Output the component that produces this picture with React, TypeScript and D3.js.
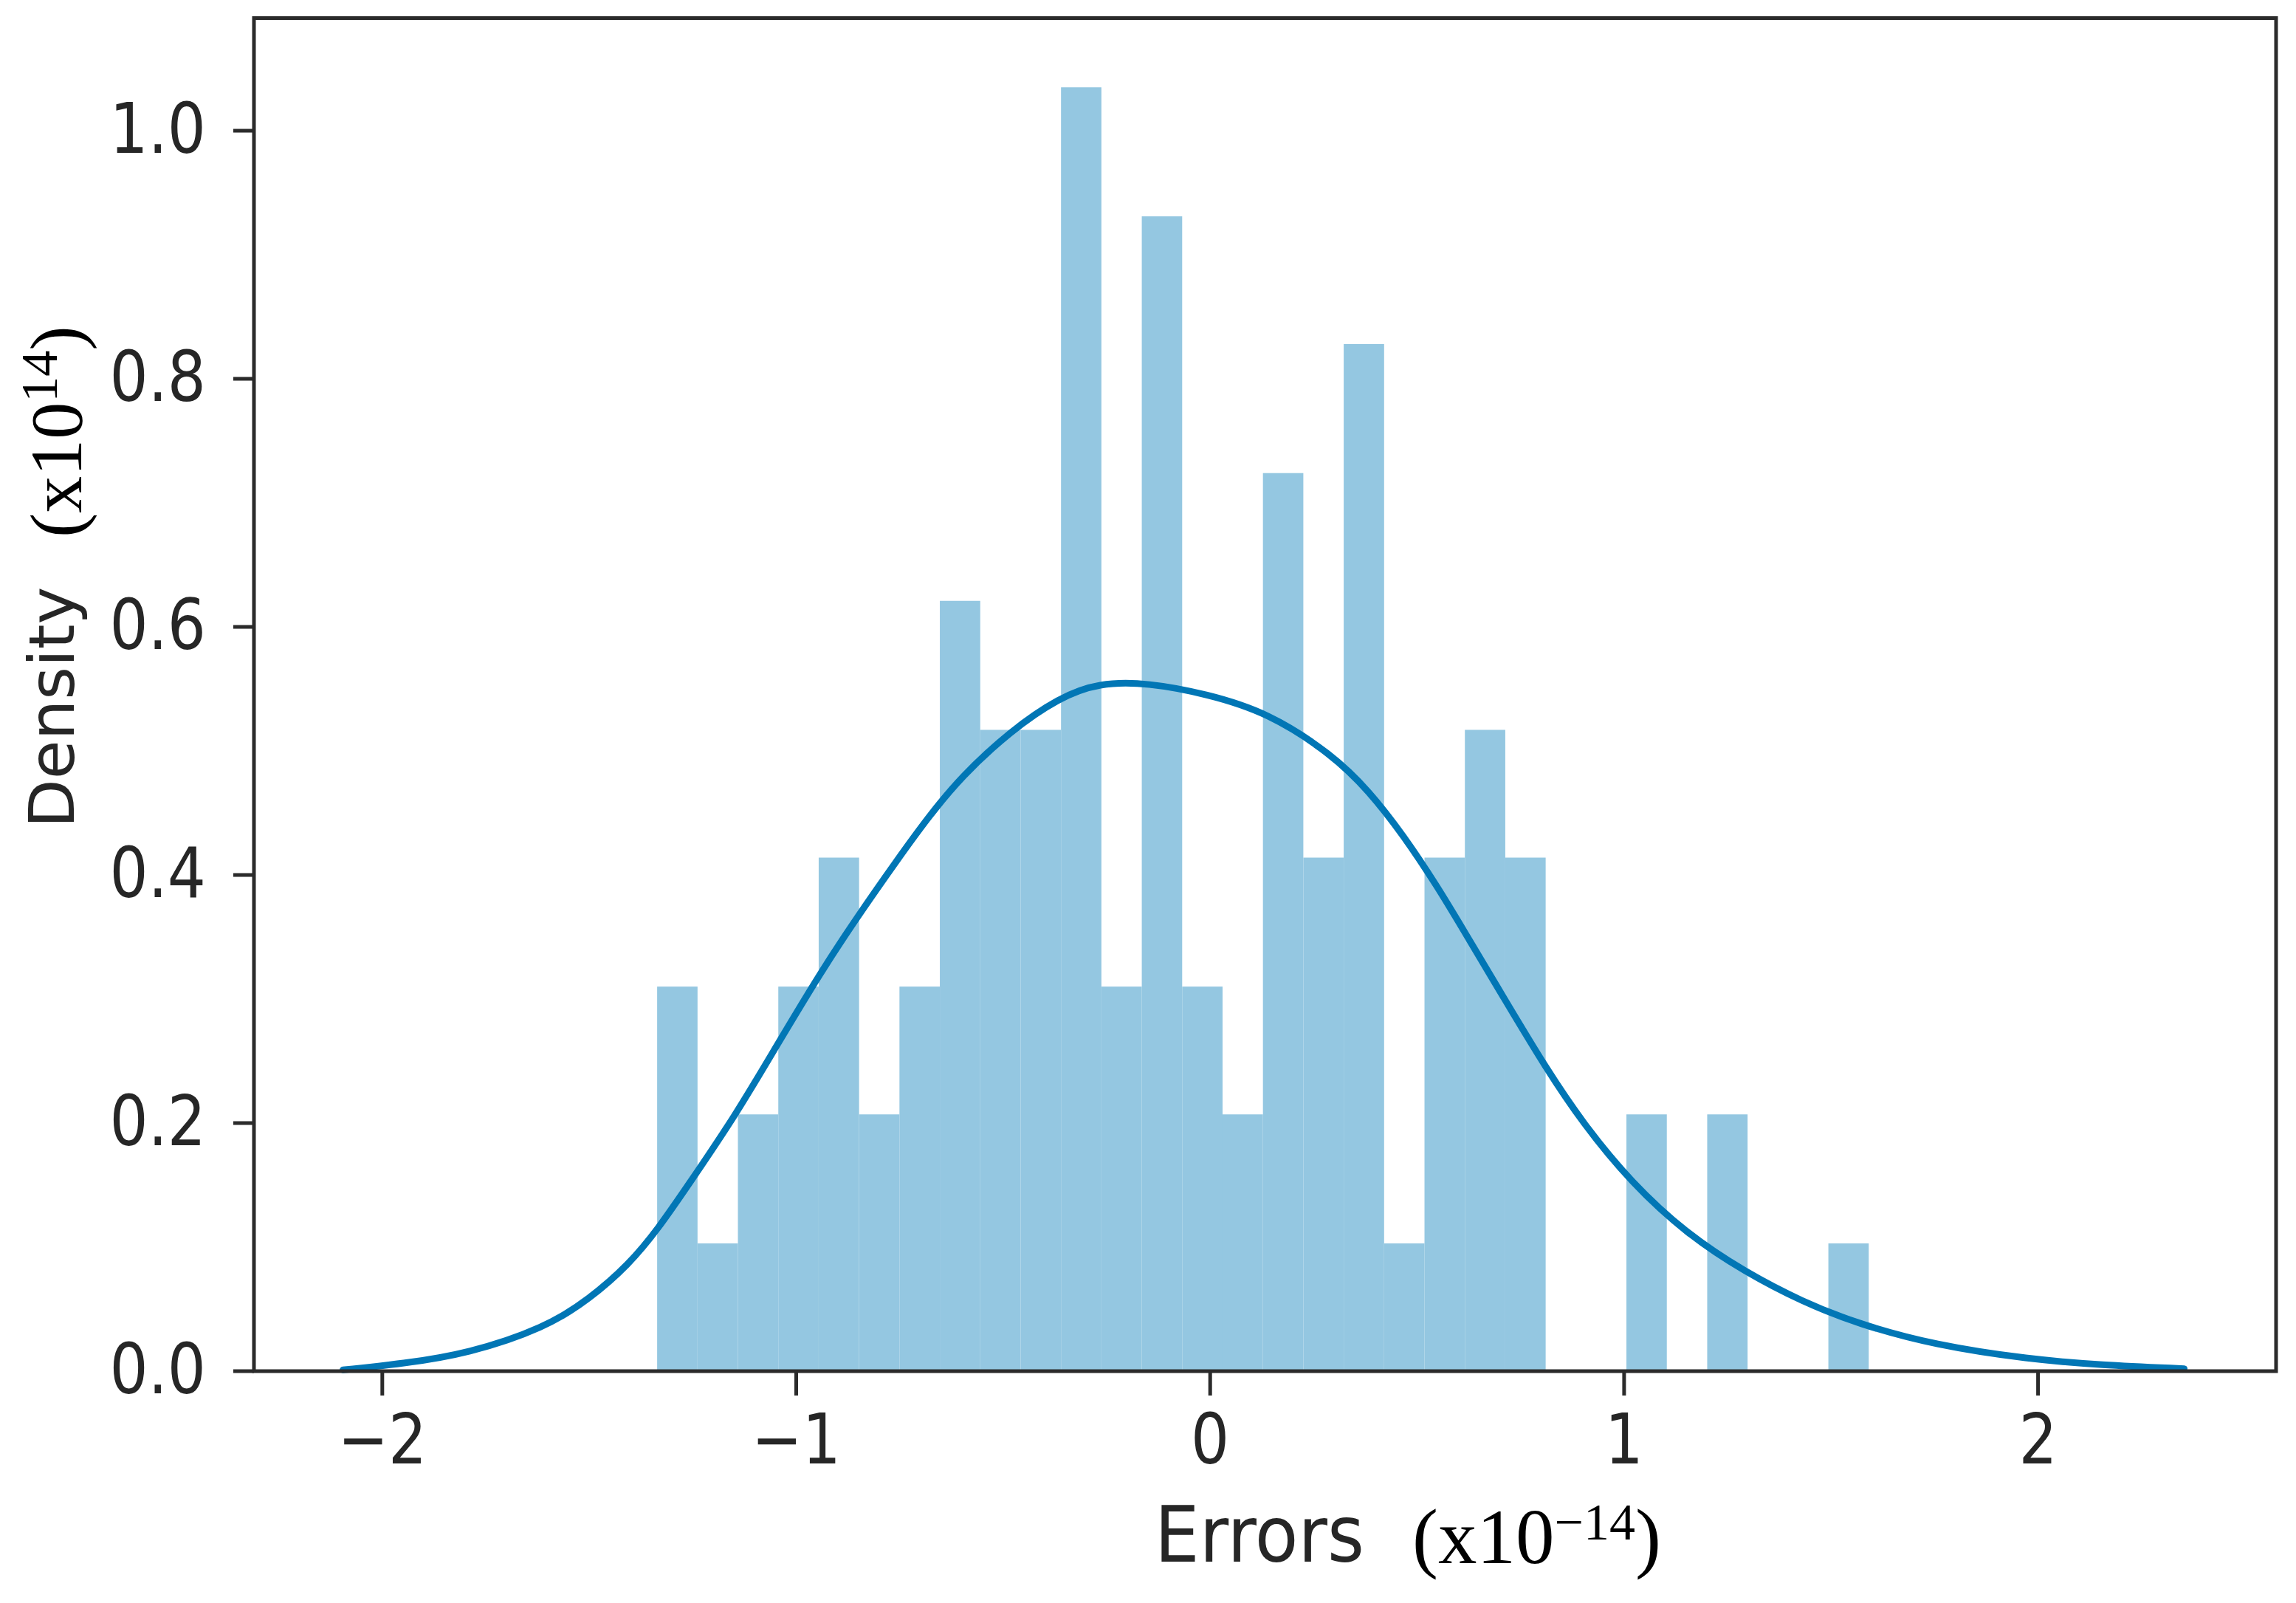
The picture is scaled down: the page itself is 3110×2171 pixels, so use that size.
import React from "react";
import * as d3 from "d3";

// Histogram (density): 30 equal bins between binLo and binHi
const binLo = -1.336;
const binHi = 1.591;
const binDensity = [
  0.31, 0.103, 0.207, 0.31, 0.414, 0.207, 0.31, 0.621, 0.517, 0.517,
  1.035, 0.31, 0.931, 0.31, 0.207, 0.724, 0.414, 0.828, 0.103, 0.414,
  0.517, 0.414, 0, 0, 0.207, 0, 0.207, 0, 0, 0.103,
];

// KDE curve points
const kdeX = [
  -2.095, -1.95, -1.794, -1.606, -1.5, -1.404, -1.333, -1.261, -1.149, -1.048,
  -0.94, -0.857, -0.75, -0.68, -0.602, -0.483, -0.365, -0.269, -0.15, -0.009,
  0.14, 0.295, 0.383, 0.467, 0.55, 0.604, 0.72, 0.81, 0.9, 1.017,
  1.154, 1.292, 1.43, 1.566, 1.75, 1.98, 2.15, 2.353,
];
const kdeY = [
  0.001, 0.006, 0.014, 0.035, 0.058, 0.086, 0.115, 0.15, 0.205, 0.262,
  0.322, 0.364, 0.415, 0.447, 0.479, 0.516, 0.543, 0.555, 0.555, 0.546,
  0.531, 0.497, 0.468, 0.432, 0.39, 0.36, 0.295, 0.245, 0.2, 0.152,
  0.11, 0.08, 0.056, 0.038, 0.021, 0.0095, 0.005, 0.002,
];

const xTicks = [-2, -1, 0, 1, 2];
const yTicks = [0, 0.2, 0.4, 0.6, 0.8, 1.0];

const W = 3110;
const H = 2171;
const L = 344;
const R = 3083;
const T = 24.5;
const B = 1857;

export default function App() {
  const x = d3.scaleLinear().domain([-2.31, 2.575]).range([L, R]);
  const y = d3.scaleLinear().domain([0, 1.0908]).range([B, T]);
  const edges = d3.range(binDensity.length + 1).map(
    (i) => binLo + ((binHi - binLo) * i) / binDensity.length
  );
  const pts = kdeX.map((v, i) => [v, kdeY[i]] as [number, number]);
  const line = d3
    .line<[number, number]>()
    .x((d) => x(d[0]))
    .y((d) => y(d[1]))
    .curve(d3.curveBasis);
  const fmtY = d3.format(".1f");
  const fmtX = (v: number) => (v < 0 ? "\u2212" + Math.abs(v) : String(v));
  const sans = "'DejaVu Sans', sans-serif";
  const serif = "'Liberation Serif', 'Times New Roman', serif";
  const axisColor = "#2b2b2b";
  const textColor = "#262626";

  return (
    <svg
      width={W}
      height={H}
      style={{ position: "absolute", left: 0, top: 0, display: "block", background: "#fff" }}
    >
      <rect x={0} y={0} width={W} height={H} fill="#fff" />
      {binDensity.map((d, i) =>
        d > 0 ? (
          <rect
            key={i}
            x={x(edges[i])}
            y={y(d)}
            width={x(edges[i + 1]) - x(edges[i])}
            height={y(0) - y(d)}
            fill="#94c7e1"
          />
        ) : null
      )}
      <path d={line(pts) || ""} fill="none" stroke="#0176b5" strokeWidth={9} strokeLinecap="round" />
      {/* frame */}
      <rect x={L} y={T} width={R - L} height={B - T} fill="none" stroke={axisColor} strokeWidth={5} />
      {/* y ticks */}
      {yTicks.map((t) => (
        <g key={"y" + t}>
          <line x1={L - 28} x2={L} y1={y(t)} y2={y(t)} stroke={axisColor} strokeWidth={5} />
          <text
            transform={`translate(${L - 65},${y(t) + 30}) scale(1,1.15)`}
            textAnchor="end"
            fontFamily={sans}
            fontSize={82}
            fill={textColor}
          >
            {fmtY(t)}
          </text>
        </g>
      ))}
      {/* x ticks */}
      {xTicks.map((t) => (
        <g key={"x" + t}>
          <line x1={x(t)} x2={x(t)} y1={B} y2={B + 33} stroke={axisColor} strokeWidth={5} />
          <text
            transform={`translate(${x(t)},${B + 125}) scale(1,1.15)`}
            textAnchor="middle"
            fontFamily={sans}
            fontSize={82}
            fill={textColor}
          >
            {fmtX(t)}
          </text>
        </g>
      ))}
      {/* x label */}
      <text
        transform={`translate(1564,2115) scale(1,1.1)`}
        fontFamily={sans}
        fontSize={96}
        fill={textColor}
      >
        Errors
      </text>
      <text x={1913} y={2117} fontFamily={serif} fontSize={105} fill="#000">
        (x10
        <tspan dy={-32} fontSize={70}>
          {"\u221214"}
        </tspan>
        <tspan dy={32}>)</tspan>
      </text>
      {/* y label */}
      <text
        transform={`translate(100,958) rotate(-90)`}
        textAnchor="middle"
        fontFamily={sans}
        fontSize={86}
        fill={textColor}
      >
        Density
      </text>
      <text
        transform={`translate(110,728) rotate(-90)`}
        fontFamily={serif}
        fontSize={100}
        fill="#000"
      >
        (x10
        <tspan dy={-33} fontSize={70}>
          14
        </tspan>
        <tspan dy={33}>)</tspan>
      </text>
    </svg>
  );
}
